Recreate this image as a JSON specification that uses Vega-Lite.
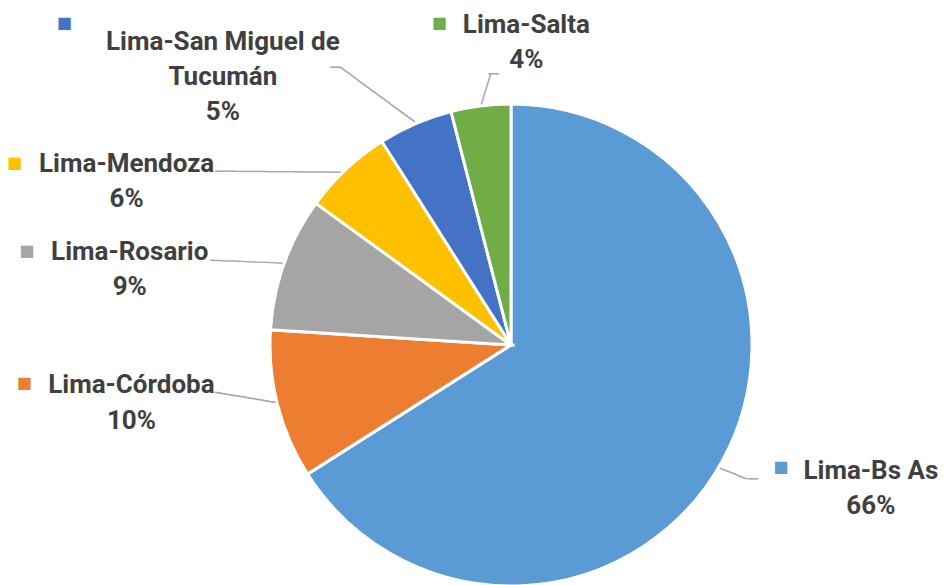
{
  "$schema": "https://vega.github.io/schema/vega-lite/v6.json",
  "width": 866,
  "height": 480,
  "autosize": {"type": "none"},
  "padding": {"left": 78, "top": 105, "right": 0, "bottom": 0},
  "background": "white",
  "config": {"view": {"stroke": null}},
  "data": {
    "values": [
      {"ruta": "Lima-Bs As", "pct": 66, "orden": 1, "etiqueta": "Lima-Bs As\n66%"},
      {"ruta": "Lima-Córdoba", "pct": 10, "orden": 2, "etiqueta": "Lima-Córdoba\n10%"},
      {"ruta": "Lima-Rosario", "pct": 9, "orden": 3, "etiqueta": "Lima-Rosario\n9%"},
      {"ruta": "Lima-Mendoza", "pct": 6, "orden": 4, "etiqueta": "Lima-Mendoza\n6%"},
      {"ruta": "Lima-San Miguel de Tucumán", "pct": 5, "orden": 5, "etiqueta": "Lima-San Miguel de\nTucumán\n5%"},
      {"ruta": "Lima-Salta", "pct": 4, "orden": 6, "etiqueta": "Lima-Salta\n4%"}
    ]
  },
  "encoding": {
    "theta": {"field": "pct", "type": "quantitative", "stack": true},
    "order": {"field": "orden", "type": "quantitative", "sort": "ascending"}
  },
  "layer": [
    {
      "mark": {"type": "text", "radius": 241, "angle": 201.8, "dx": -29.3, "dy": -6.5, "font": "DejaVu Sans Mono", "fontSize": 17, "fill": "#A6A6A6", "align": "left", "baseline": "middle"},
      "encoding": {"detail": {"field": "ruta"}, "text": {"condition": {"test": "datum.ruta === 'Lima-Bs As'", "value": "───"}, "value": ""}}
    },
    {
      "mark": {"type": "text", "radius": 241, "angle": 180, "dx": -35.8, "dy": -16.9, "font": "DejaVu Sans Mono", "fontSize": 17, "fill": "#A6A6A6", "align": "left", "baseline": "middle"},
      "encoding": {"detail": {"field": "ruta"}, "text": {"condition": {"test": "datum.ruta === 'Lima-Bs As'", "value": "─"}, "value": ""}}
    },
    {
      "mark": {"type": "text", "radius": 241, "angle": 9.5, "dx": -63.7, "dy": -1.4, "font": "DejaVu Sans Mono", "fontSize": 17, "fill": "#A6A6A6", "align": "left", "baseline": "middle"},
      "encoding": {"detail": {"field": "ruta"}, "text": {"condition": {"test": "datum.ruta === 'Lima-Córdoba'", "value": "───────"}, "value": ""}}
    },
    {
      "mark": {"type": "text", "radius": 241, "angle": 2.4, "dx": -74.2, "dy": 0.7, "font": "DejaVu Sans Mono", "fontSize": 17, "fill": "#A6A6A6", "align": "left", "baseline": "middle"},
      "encoding": {"detail": {"field": "ruta"}, "text": {"condition": {"test": "datum.ruta === 'Lima-Rosario'", "value": "────────"}, "value": ""}}
    },
    {
      "mark": {"type": "text", "radius": 241, "angle": 0.5, "dx": -131, "dy": 3.8, "font": "DejaVu Sans Mono", "fontSize": 17, "fill": "#A6A6A6", "align": "left", "baseline": "middle"},
      "encoding": {"detail": {"field": "ruta"}, "text": {"condition": {"test": "datum.ruta === 'Lima-Mendoza'", "value": "─────────────"}, "value": ""}}
    },
    {
      "mark": {"type": "text", "radius": 241, "angle": 36.3, "dx": -93.7, "dy": -0.4, "font": "DejaVu Sans Mono", "fontSize": 17, "fill": "#A6A6A6", "align": "left", "baseline": "middle"},
      "encoding": {"detail": {"field": "ruta"}, "text": {"condition": {"test": "datum.ruta === 'Lima-San Miguel de Tucumán'", "value": "─────────"}, "value": ""}}
    },
    {
      "mark": {"type": "text", "radius": 241, "dx": -85.3, "dy": -55.8, "font": "DejaVu Sans Mono", "fontSize": 17, "fill": "#A6A6A6", "align": "left", "baseline": "middle"},
      "encoding": {"detail": {"field": "ruta"}, "text": {"condition": {"test": "datum.ruta === 'Lima-San Miguel de Tucumán'", "value": "─"}, "value": ""}}
    },
    {
      "mark": {"type": "text", "radius": 241, "angle": 106.9, "dx": -34.2, "dy": 0.8, "font": "DejaVu Sans Mono", "fontSize": 17, "fill": "#A6A6A6", "align": "left", "baseline": "middle"},
      "encoding": {"detail": {"field": "ruta"}, "text": {"condition": {"test": "datum.ruta === 'Lima-Salta'", "value": "────"}, "value": ""}}
    },
    {
      "mark": {"type": "text", "radius": 241, "angle": 180, "dx": -18.2, "dy": 32.9, "font": "DejaVu Sans Mono", "fontSize": 17, "fill": "#A6A6A6", "align": "left", "baseline": "middle"},
      "encoding": {"detail": {"field": "ruta"}, "text": {"condition": {"test": "datum.ruta === 'Lima-Salta'", "value": "─"}, "value": ""}}
    },
    {
      "mark": {"type": "arc", "radius": 241, "stroke": "white", "strokeWidth": 3},
      "encoding": {
        "color": {
          "field": "ruta", "type": "nominal", "legend": null,
          "scale": {
            "domain": ["Lima-Bs As", "Lima-Córdoba", "Lima-Rosario", "Lima-Mendoza", "Lima-San Miguel de Tucumán", "Lima-Salta"],
            "range": ["#5B9BD5", "#ED7D31", "#A5A5A5", "#FFC000", "#4472C4", "#70AD47"]
          }
        }
      }
    },
    {
      "mark": {"type": "text", "radius": 300, "dx": 97, "dy": -11, "font": "Roboto", "fontWeight": "bold", "fontSize": 26, "fill": "#404040", "align": "center", "baseline": "alphabetic", "lineBreak": "\n", "lineHeight": 35},
      "encoding": {"detail": {"field": "ruta"}, "text": {"condition": {"test": "datum.ruta === 'Lima-Bs As'", "field": "etiqueta", "type": "nominal"}, "value": ""}}
    },
    {
      "mark": {"type": "text", "radius": 300, "dx": -89, "dy": -27, "font": "Roboto", "fontWeight": "bold", "fontSize": 26, "fill": "#404040", "align": "center", "baseline": "alphabetic", "lineBreak": "\n", "lineHeight": 36},
      "encoding": {"detail": {"field": "ruta"}, "text": {"condition": {"test": "datum.ruta === 'Lima-Córdoba'", "field": "etiqueta", "type": "nominal"}, "value": ""}}
    },
    {
      "mark": {"type": "text", "radius": 300, "dx": -99, "dy": 17, "font": "Roboto", "fontWeight": "bold", "fontSize": 26, "fill": "#404040", "align": "center", "baseline": "alphabetic", "lineBreak": "\n", "lineHeight": 35},
      "encoding": {"detail": {"field": "ruta"}, "text": {"condition": {"test": "datum.ruta === 'Lima-Rosario'", "field": "etiqueta", "type": "nominal"}, "value": ""}}
    },
    {
      "mark": {"type": "text", "radius": 300, "dx": -179, "dy": 46, "font": "Roboto", "fontWeight": "bold", "fontSize": 26, "fill": "#404040", "align": "center", "baseline": "alphabetic", "lineBreak": "\n", "lineHeight": 35},
      "encoding": {"detail": {"field": "ruta"}, "text": {"condition": {"test": "datum.ruta === 'Lima-Mendoza'", "field": "etiqueta", "type": "nominal"}, "value": ""}}
    },
    {
      "mark": {"type": "text", "radius": 300, "dx": -169, "dy": -20, "font": "Roboto", "fontWeight": "bold", "fontSize": 26, "fill": "#404040", "align": "center", "baseline": "alphabetic", "lineBreak": "\n", "lineHeight": 35},
      "encoding": {"detail": {"field": "ruta"}, "text": {"condition": {"test": "datum.ruta === 'Lima-San Miguel de Tucumán'", "field": "etiqueta", "type": "nominal"}, "value": ""}}
    },
    {
      "mark": {"type": "text", "radius": 300, "dx": 53, "dy": -14, "font": "Roboto", "fontWeight": "bold", "fontSize": 26, "fill": "#404040", "align": "center", "baseline": "alphabetic", "lineBreak": "\n", "lineHeight": 35},
      "encoding": {"detail": {"field": "ruta"}, "text": {"condition": {"test": "datum.ruta === 'Lima-Salta'", "field": "etiqueta", "type": "nominal"}, "value": ""}}
    },
    {
      "mark": {"type": "text", "radius": 300, "dx": 7, "dy": -22.5, "font": "DejaVu Sans", "fontSize": 16, "align": "center", "baseline": "middle"},
      "encoding": {"color": {"field": "ruta", "type": "nominal", "legend": null}, "text": {"condition": {"test": "datum.ruta === 'Lima-Bs As'", "value": "■"}, "value": ""}}
    },
    {
      "mark": {"type": "text", "radius": 300, "dx": -196, "dy": -36.5, "font": "DejaVu Sans", "fontSize": 16, "align": "center", "baseline": "middle"},
      "encoding": {"color": {"field": "ruta", "type": "nominal", "legend": null}, "text": {"condition": {"test": "datum.ruta === 'Lima-Córdoba'", "value": "■"}, "value": ""}}
    },
    {
      "mark": {"type": "text", "radius": 300, "dx": -202, "dy": 8, "font": "DejaVu Sans", "fontSize": 16, "align": "center", "baseline": "middle"},
      "encoding": {"color": {"field": "ruta", "type": "nominal", "legend": null}, "text": {"condition": {"test": "datum.ruta === 'Lima-Rosario'", "value": "■"}, "value": ""}}
    },
    {
      "mark": {"type": "text", "radius": 300, "dx": -291, "dy": 36.5, "font": "DejaVu Sans", "fontSize": 16, "align": "center", "baseline": "middle"},
      "encoding": {"color": {"field": "ruta", "type": "nominal", "legend": null}, "text": {"condition": {"test": "datum.ruta === 'Lima-Mendoza'", "value": "■"}, "value": ""}}
    },
    {
      "mark": {"type": "text", "radius": 300, "dx": -327.5, "dy": -47, "font": "DejaVu Sans", "fontSize": 16, "align": "center", "baseline": "middle"},
      "encoding": {"color": {"field": "ruta", "type": "nominal", "legend": null}, "text": {"condition": {"test": "datum.ruta === 'Lima-San Miguel de Tucumán'", "value": "■"}, "value": ""}}
    },
    {
      "mark": {"type": "text", "radius": 300, "dx": -34, "dy": -24, "font": "DejaVu Sans", "fontSize": 16, "align": "center", "baseline": "middle"},
      "encoding": {"color": {"field": "ruta", "type": "nominal", "legend": null}, "text": {"condition": {"test": "datum.ruta === 'Lima-Salta'", "value": "■"}, "value": ""}}
    }
  ]
}
